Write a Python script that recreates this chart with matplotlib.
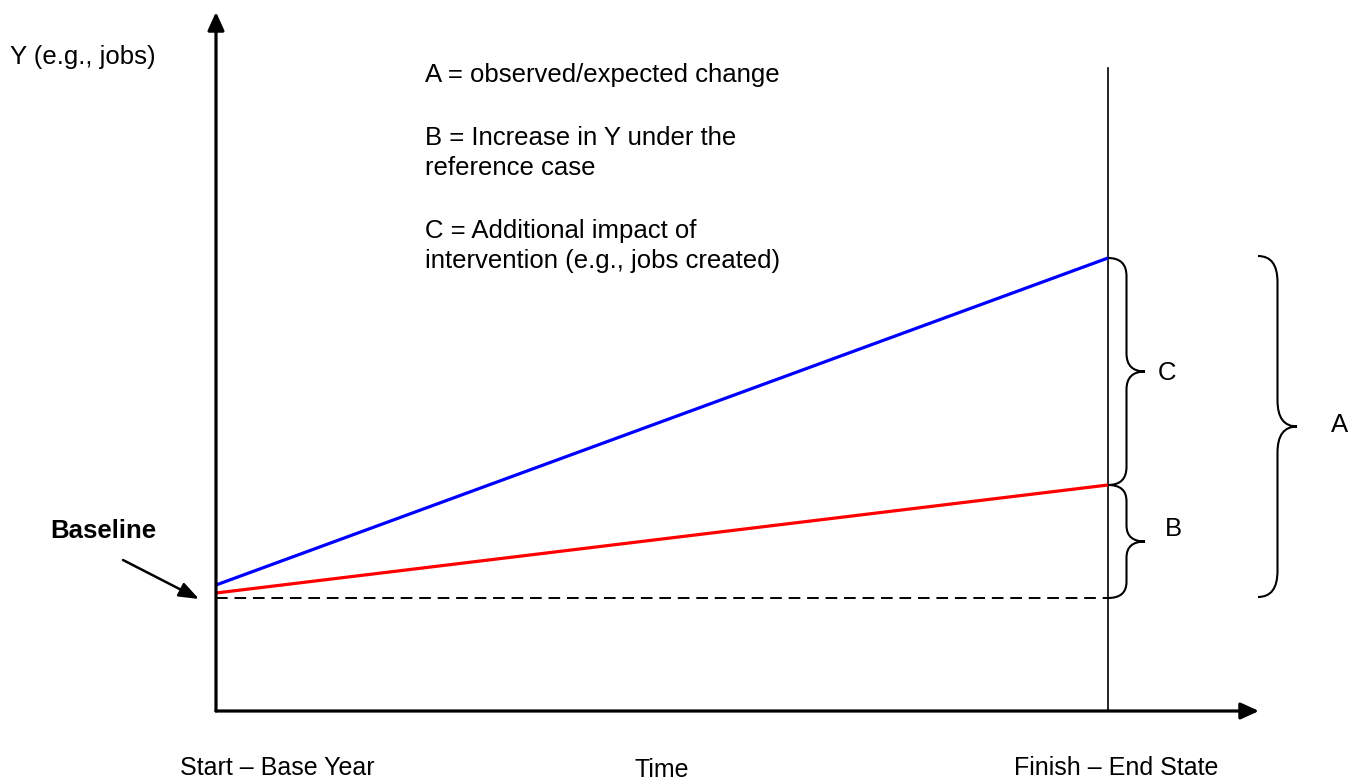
import numpy as np
import matplotlib
matplotlib.use("Agg")
import matplotlib.pyplot as plt
from matplotlib.path import Path
from matplotlib.patches import PathPatch

plt.rcParams['font.family'] = ['Liberation Sans', 'DejaVu Sans']

# time runs from start (0) to finish (1); Y in arbitrary units
t_span = [0.0, 1.0]
baseline = 112
with_intervention = [125, 452]   # blue
reference_case = [117, 225]      # red

notes = ["A = observed/expected change",
         "B = Increase in Y under the\nreference case",
         "C = Additional impact of\nintervention (e.g., jobs created)"]
x_labels = ["Start \u2013 Base Year", "Time", "Finish \u2013 End State"]

PX = 1.0 / 892  # one pixel in time units
FS = 18.5


def brace(ax, x0, ytop, ybot, w, r, lw=1.5):
    xs = x0 + w * 0.5
    xt = x0 + w
    ym = (ytop + ybot) / 2
    verts = [(x0, ytop), (xs, ytop), (xs, ytop - r),
             (xs, ym + r),
             (xs, ym), (xt, ym),
             (xs, ym), (xs, ym - r),
             (xs, ybot + r),
             (xs, ybot), (x0, ybot)]
    codes = [Path.MOVETO, Path.CURVE3, Path.CURVE3,
             Path.LINETO,
             Path.CURVE3, Path.CURVE3,
             Path.CURVE3, Path.CURVE3,
             Path.LINETO,
             Path.CURVE3, Path.CURVE3]
    ax.add_patch(PathPatch(Path(verts, codes), fill=False, lw=lw, color='black'))


fig = plt.figure(figsize=(13.62, 7.84), dpi=100)
ax = fig.add_axes([0, 0, 1, 1])
ax.set_xlim(-216 * PX, 1146 * PX)
ax.set_ylim(-74, 710)
ax.axis('off')

# axes with arrows
head = '-|>,head_length=1.1,head_width=0.5'
ax.annotate('', xy=(0, 698), xytext=(0, -1),
            arrowprops=dict(arrowstyle=head, lw=2.3, color='black',
                            shrinkA=0, shrinkB=0))
ax.annotate('', xy=(1043 * PX, -1), xytext=(0, -1),
            arrowprops=dict(arrowstyle=head, lw=2.3, color='black',
                            shrinkA=0, shrinkB=0))

# finish line
ax.plot([1, 1], [0, 642], color='black', lw=1.2)

# series
ax.plot(t_span, [baseline, baseline], color='black', lw=1.4, ls=(0, (6, 3.5)))
ax.plot(t_span, reference_case, color='#ff0000', lw=2.3, solid_capstyle='butt')
ax.plot(t_span, with_intervention, color='#0000ff', lw=2.3, solid_capstyle='butt')

# braces
brace(ax, 1, with_intervention[1], reference_case[1], 37 * PX, 18)
brace(ax, 1, reference_case[1], baseline, 37 * PX, 16)
brace(ax, 1042 * PX, with_intervention[1] + 2, baseline + 1, 39 * PX, 26)
ax.text(1 + 50 * PX, (with_intervention[1] + reference_case[1]) / 2 - 1, "C",
        fontsize=FS, ha='left', va='center')
ax.text(1 + 57 * PX, (reference_case[1] + baseline) / 2 + 13, "B",
        fontsize=FS, ha='left', va='center')
ax.text(1 + 223 * PX, (with_intervention[1] + baseline) / 2 + 3, "A",
        fontsize=FS, ha='left', va='center')

# baseline label and pointer
ax.text(-166 * PX, 179, "Baseline", fontsize=FS, fontweight='bold',
        ha='left', va='center')
ax.annotate('', xy=(-17 * PX, baseline - 1), xytext=(-93 * PX, 150),
            arrowprops=dict(arrowstyle='-|>,head_length=1.2,head_width=0.45',
                            lw=1.8, color='black', shrinkA=0, shrinkB=0))

# Y label
ax.text(-206 * PX, 653, "Y (e.g., jobs)", fontsize=FS, ha='left', va='center')

# notes
note_y = [635, 557, 464]
for s, yy in zip(notes, note_y):
    ax.text(209 * PX, yy, s, fontsize=FS, ha='left', va='center',
            linespacing=1.36)

# bottom labels
ax.text(-36 * PX, -58, x_labels[0], fontsize=18, ha='left', va='center')
ax.text(0.5, -60, x_labels[1], fontsize=18, ha='center', va='center')
ax.text(1 - 94 * PX, -58, x_labels[2], fontsize=18, ha='left', va='center')

fig.savefig("out.png", dpi=100)
